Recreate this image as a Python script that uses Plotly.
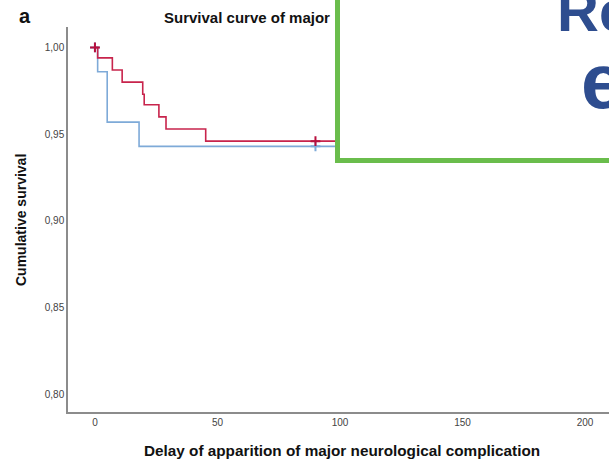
import plotly.graph_objects as go

# Kaplan-Meier step data
red_time = [0, 1.1, 7.1, 11.1, 19.5, 20.1, 26.1, 29.0, 45.2, 200]
red_surv = [1.000, 0.994, 0.987, 0.980, 0.973, 0.967, 0.960, 0.953, 0.946, 0.946]
red_cens_time = [0, 90]
red_cens_surv = [1.000, 0.946]

blue_time = [0, 1.1, 5.0, 18.0, 200]
blue_surv = [1.000, 0.986, 0.957, 0.943, 0.943]
blue_cens_time = [0, 90]
blue_cens_surv = [1.000, 0.943]

x_ticks = [0, 50, 100, 150, 200]
y_ticks = [0.80, 0.85, 0.90, 0.95, 1.00]

RED = "#c8244c"
BLUE = "#7eaad8"

W, H = 609, 459
L, R, T, B = 68, 0, 27, 47
PW, PH = W - L - R, H - T - B


def px(x):
    return (x - L) / PW


def py(y):
    return (H - B - y) / PH


fig = go.Figure()
fig.add_trace(go.Scatter(x=blue_time, y=blue_surv, mode="lines",
                         line=dict(color=BLUE, width=1.6, shape="hv"),
                         showlegend=False, hoverinfo="skip"))
fig.add_trace(go.Scatter(x=blue_cens_time, y=blue_cens_surv, mode="markers",
                         marker=dict(symbol="cross-thin", size=7,
                                     line=dict(color=BLUE, width=2)),
                         showlegend=False, hoverinfo="skip"))
fig.add_trace(go.Scatter(x=red_time, y=red_surv, mode="lines",
                         line=dict(color=RED, width=1.6, shape="hv"),
                         showlegend=False, hoverinfo="skip"))
fig.add_trace(go.Scatter(x=red_cens_time, y=red_cens_surv, mode="markers",
                         marker=dict(symbol="cross-thin", size=7,
                                     line=dict(color="#b8103e", width=2)),
                         showlegend=False, hoverinfo="skip"))

axis_common = dict(showgrid=False, zeroline=False, showline=True,
                   linecolor="#8c8c8c", linewidth=1.5, ticks="",
                   tickfont=dict(family="Liberation Sans, Arial", size=10, color="#444"))

fig.update_xaxes(range=[-11.0, 209.8], tickvals=x_ticks, **axis_common)
fig.update_yaxes(range=[0.7899, 1.0118], tickvals=y_ticks, tickformat=".2f",
                 ticklabelstandoff=0, **axis_common)

fig.add_shape(type="rect", xref="paper", yref="paper",
              x0=px(337.5), x1=px(640), y0=py(160.5), y1=py(-30),
              line=dict(color="#6abd4c", width=5), fillcolor="white",
              layer="above")

font_b = "Liberation Sans, Arial"
annotations = [
    dict(text="<b>a</b>", x=px(17), y=py(16.5), xanchor="left", yanchor="middle",
         font=dict(family=font_b, size=20, color="#111")),
    dict(text="<b>Survival curve of major</b>", x=px(162), y=py(17.5),
         xanchor="left", yanchor="middle",
         font=dict(family=font_b, size=15, color="#111")),
    dict(text="<b>Cumulative survival</b>", x=px(21), y=py(220), textangle=-90,
         xanchor="center", yanchor="middle",
         font=dict(family=font_b, size=14, color="#111")),
    dict(text="<b>Delay of apparition of major neurological complication</b>",
         x=px(341.5), y=py(451), xanchor="center", yanchor="middle",
         font=dict(family=font_b, size=15.3, color="#111")),
    dict(text="<b>Re</b>", x=px(555), y=py(11), xanchor="left", yanchor="middle",
         font=dict(family=font_b, size=58, color="#2e4d8f")),
    dict(text="<b>e</b>", x=px(579), y=py(81), xanchor="left", yanchor="middle",
         font=dict(family=font_b, size=78, color="#2e4d8f")),
]
for a in annotations:
    a.update(xref="paper", yref="paper", showarrow=False)

fig.update_layout(width=W, height=H, margin=dict(l=L, r=R, t=T, b=B),
                  paper_bgcolor="white", plot_bgcolor="white",
                  separators=",.", annotations=annotations, showlegend=False)

fig.write_html("out.html")
